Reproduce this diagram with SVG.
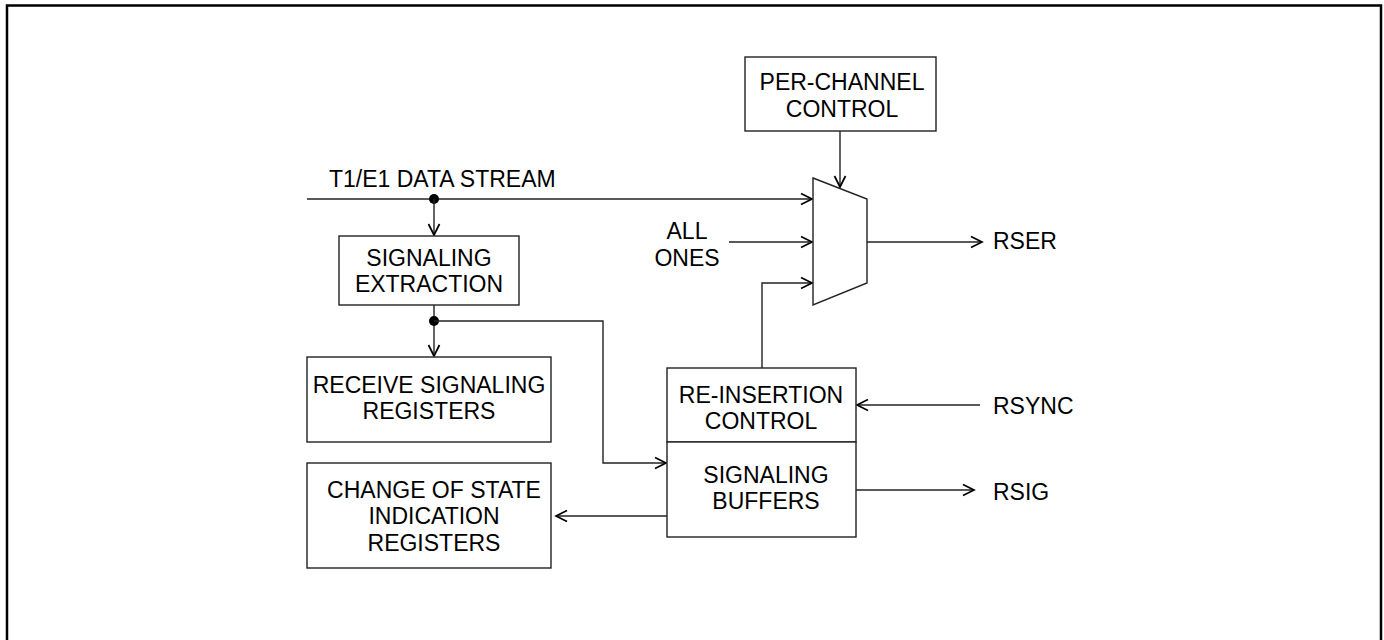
<svg xmlns="http://www.w3.org/2000/svg" width="1384" height="640" viewBox="0 0 1384 640">
<defs>
<marker id="arr" markerUnits="userSpaceOnUse" markerWidth="14" markerHeight="14" refX="12" refY="6" orient="auto" viewBox="0 0 14 12">
<path d="M1,0.5 L12,6 L1,11.5" fill="none" stroke="#000" stroke-width="1.7"/>
</marker>
<style>
.b{fill:#fff;stroke:#222;stroke-width:1.4}
.l{fill:none;stroke:#222;stroke-width:1.4}
.t{font-family:"Liberation Sans",Arial,sans-serif;font-size:23px;fill:#000}
.c{text-anchor:middle}
</style>
</defs>
<rect x="0" y="0" width="1384" height="640" fill="#fff"/>
<path d="M7,645 V5.5 H1381 V645" fill="none" stroke="#000" stroke-width="2.5"/>

<g id="connectors">
<line class="l" x1="307" y1="199" x2="812" y2="199" marker-end="url(#arr)"/>
<circle cx="434" cy="199" r="5" fill="#000"/>
<line class="l" x1="434" y1="199" x2="434" y2="235" marker-end="url(#arr)"/>
<line class="l" x1="434" y1="305" x2="434" y2="356" marker-end="url(#arr)"/>
<circle cx="434" cy="321" r="5" fill="#000"/>
<polyline class="l" points="434,321 603,321 603,463 666,463" marker-end="url(#arr)"/>
<line class="l" x1="840" y1="131" x2="840" y2="187" marker-end="url(#arr)"/>
<line class="l" x1="729" y1="242" x2="812" y2="242" marker-end="url(#arr)"/>
<polyline class="l" points="762,368 762,283 812,283" marker-end="url(#arr)"/>
<line class="l" x1="867" y1="242" x2="982" y2="242" marker-end="url(#arr)"/>
<line class="l" x1="980" y1="405" x2="857" y2="405" marker-end="url(#arr)"/>
<line class="l" x1="856" y1="490" x2="974" y2="490" marker-end="url(#arr)"/>
<line class="l" x1="667" y1="516" x2="556" y2="516" marker-end="url(#arr)"/>
</g>

<g id="per-channel">
<rect class="b" x="745" y="57" width="191" height="74"/>
<text class="t c" x="842" y="90">PER-CHANNEL</text>
<text class="t c" x="842" y="117">CONTROL</text>
</g>

<g id="mux">
<polygon class="b" points="813,178 867,199 867,283 813,305"/>
</g>

<g id="t1e1-label">
<text class="t" x="329" y="187">T1/E1 DATA STREAM</text>
</g>

<g id="all-ones">
<text class="t c" x="687" y="239">ALL</text>
<text class="t c" x="687" y="266">ONES</text>
</g>

<g id="signaling-extraction">
<rect class="b" x="339" y="236" width="180" height="69"/>
<text class="t c" x="429" y="266">SIGNALING</text>
<text class="t c" x="429" y="292">EXTRACTION</text>
</g>

<g id="receive-signaling">
<rect class="b" x="307" y="357" width="244" height="85"/>
<text class="t c" x="429" y="393">RECEIVE SIGNALING</text>
<text class="t c" x="429" y="419">REGISTERS</text>
</g>

<g id="change-of-state">
<rect class="b" x="307" y="463" width="244" height="105"/>
<text class="t c" x="434" y="498">CHANGE OF STATE</text>
<text class="t c" x="434" y="524">INDICATION</text>
<text class="t c" x="434" y="551">REGISTERS</text>
</g>

<g id="reinsertion">
<rect class="b" x="667" y="368" width="189" height="74"/>
<text class="t c" x="761" y="403">RE-INSERTION</text>
<text class="t c" x="761" y="429">CONTROL</text>
</g>

<g id="signaling-buffers">
<rect class="b" x="667" y="442" width="189" height="95"/>
<text class="t c" x="766" y="483">SIGNALING</text>
<text class="t c" x="766" y="509">BUFFERS</text>
</g>

<g id="outputs">
<text class="t" x="993" y="249">RSER</text>
<text class="t" x="993" y="414">RSYNC</text>
<text class="t" x="993" y="500">RSIG</text>
</g>
</svg>
